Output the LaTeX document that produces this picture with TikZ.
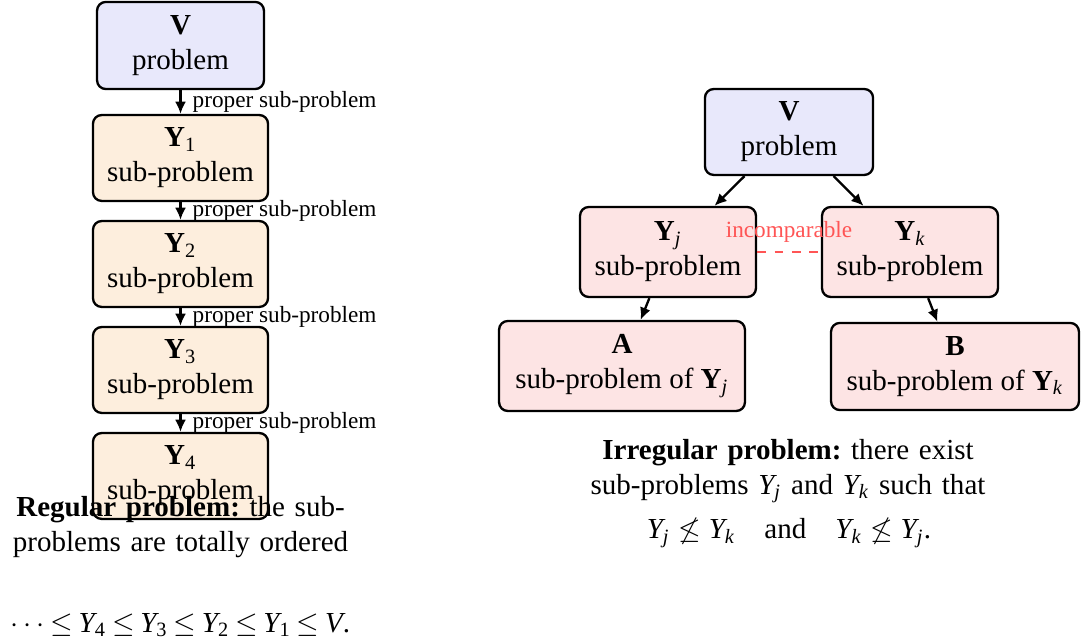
\documentclass[tikz,border=0pt]{standalone}
\usepackage{amsmath,amssymb}
\usepackage[no-math]{fontspec}
\setmainfont{Liberation Serif}
\DeclareSymbolFont{operators}{TU}{\rmdefault}{m}{n}
\DeclareSymbolFont{letters}{TU}{\rmdefault}{m}{it}
\usepackage{xcolor}
\usepackage{tikz}
\usetikzlibrary{arrows.meta}

\definecolor{probblue}{HTML}{E8E8FB}
\definecolor{suborange}{HTML}{FDEEDD}
\definecolor{subpink}{HTML}{FDE4E4}
\definecolor{incred}{HTML}{FF5555}

\begin{document}
\begin{tikzpicture}[thick,x=0.3445pt,y=-0.3445pt,>={Latex[length=4.2pt,width=3.8pt]}]
	\tikzset{prob/.style={rectangle, rounded corners=3pt, draw=black, fill=probblue, align=center, inner sep=2pt, minimum width=57.5pt, minimum height=30pt}}
	\tikzset{chain/.style={prob, fill=suborange, minimum width=60.3pt, minimum height=29.6pt}}
	\tikzset{sub/.style={prob, fill=subpink, minimum width=60.6pt, minimum height=31pt}}
	\useasboundingbox (0,0) rectangle (1081,643);

	%---NODES---
	\node[prob] (lV) at (180.5,45.5) {\textbf{V}\\problem};
	\node[chain] (lY1) at (180.5,158) {\textbf{Y}$_1$\\sub-problem};
	\node[chain] (lY2) at (180.5,264) {\textbf{Y}$_2$\\sub-problem};
	\node[chain] (lY3) at (180.5,370) {\textbf{Y}$_3$\\sub-problem};
	\node[chain] (lY4) at (180.5,476) {\textbf{Y}$_4$\\sub-problem};

	\node[prob, minimum width=57.9pt, minimum height=29.6pt] (rV) at (789,132) {\textbf{V}\\problem};
	\node[sub] (Yj) at (668,252) {\textbf{Y}$_j$\\sub-problem};
	\node[sub] (Yk) at (910,252) {\textbf{Y}$_k$\\sub-problem};
	\node[sub, minimum width=84.7pt] (A) at (622,366) {\textbf{A}\\sub-problem of \textbf{Y}$_j$};
	\node[sub, minimum width=85.4pt, minimum height=30pt] (B) at (955,366.5) {\textbf{B}\\sub-problem of \textbf{Y}$_k$};

	%---EDGES---
	\draw[->] (lV) -- node[right, inner sep=3.8pt, font=\footnotesize] {proper sub-problem} (lY1);
	\draw[->] (lY1) -- node[right, inner sep=3.8pt, font=\footnotesize] {proper sub-problem} (lY2);
	\draw[->] (lY2) -- node[right, inner sep=3.8pt, font=\footnotesize] {proper sub-problem} (lY3);
	\draw[->] (lY3) -- node[right, inner sep=3.8pt, font=\footnotesize] {proper sub-problem} (lY4);

	\draw[->] (rV) -- (Yj);
	\draw[->] (rV) -- (Yk);
	\draw[->] (Yj) -- (A);
	\draw[->] (Yk) -- (B);
	\draw[dashed, incred] (Yj) -- node[above, font=\footnotesize, yshift=-0.5pt] {incomparable} (Yk);

	%---LABELS---
	\node[text width=118pt, align=center, inner sep=0pt] (regcap) at (180.5,527) {\textbf{Regular problem:}\ the sub-problems are totally ordered};
	\node[inner sep=0pt] (regmath) at (180.5,625) {\thickmuskip=3.5mu $\cdots \leq Y_4 \leq Y_3 \leq Y_2 \leq Y_1 \leq V$.};
	\node[text width=145pt, align=center, inner sep=0pt] (irrcap) at (788,471) {\textbf{Irregular problem:}\ there exist sub-problems $Y_j$ and $Y_k$ such that};
	\node[inner sep=0pt] (irrmath) at (789,533) {$Y_j \not\leq Y_k \quad\text{and}\quad Y_k \not\leq Y_j$.};

\end{tikzpicture}
\end{document}
